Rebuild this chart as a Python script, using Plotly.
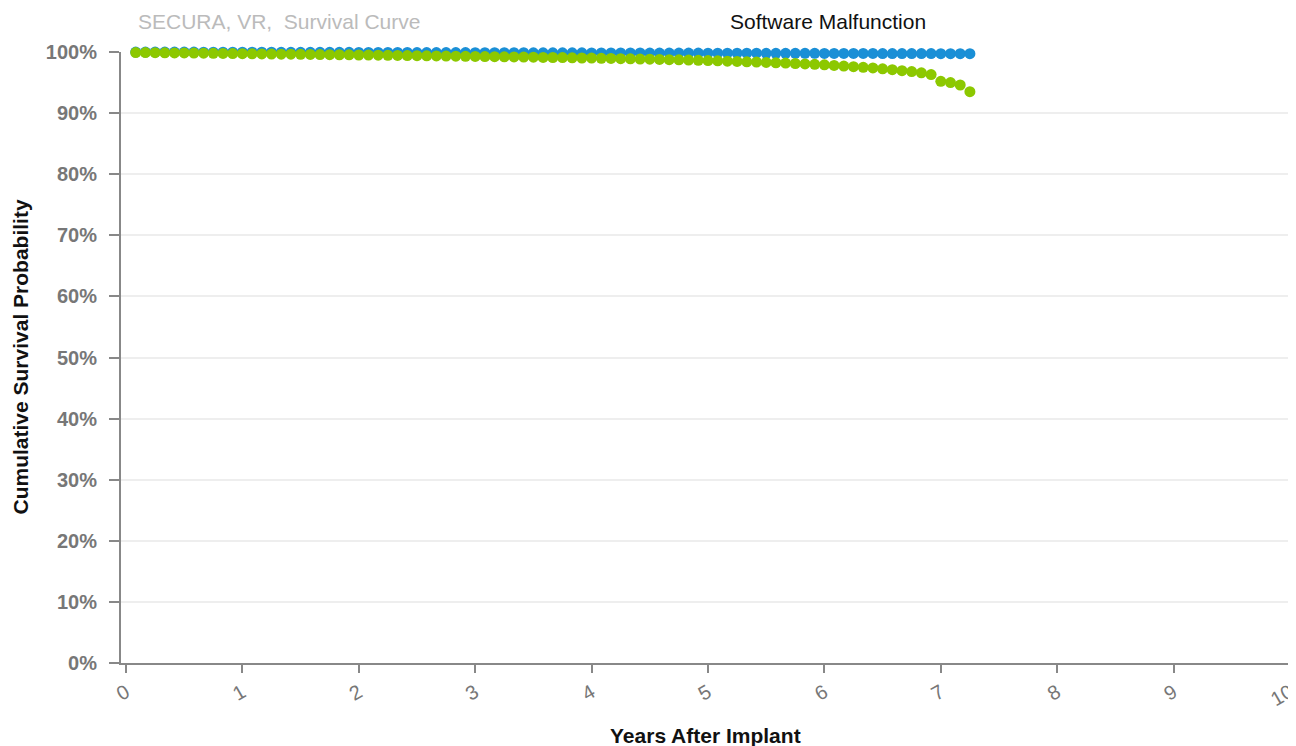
import plotly.graph_objects as go

# months after implant (monthly survival estimates)
months = list(range(1, 88))

blue_pct = [
    99.99, 99.99, 99.99, 99.98, 99.98, 99.98, 99.98, 99.97, 99.97, 99.97, 99.97, 99.96,
    99.96, 99.96, 99.96, 99.95, 99.95, 99.95, 99.95, 99.94, 99.94, 99.94, 99.94, 99.93,
    99.93, 99.93, 99.92, 99.92, 99.92, 99.91, 99.91, 99.91, 99.90, 99.90, 99.90, 99.89,
    99.89, 99.89, 99.88, 99.88, 99.88, 99.87, 99.87, 99.87, 99.86, 99.86, 99.86, 99.85,
    99.85, 99.85, 99.84, 99.84, 99.84, 99.83, 99.83, 99.83, 99.82, 99.82, 99.82, 99.81,
    99.81, 99.81, 99.80, 99.80, 99.80, 99.79, 99.79, 99.79, 99.78, 99.78, 99.78, 99.77,
    99.77, 99.77, 99.76, 99.76, 99.76, 99.75, 99.75, 99.75, 99.74, 99.74, 99.74, 99.73,
    99.73, 99.73, 99.72,
]

green_pct = [
    99.90, 99.90, 99.88, 99.87, 99.85, 99.84, 99.82, 99.80, 99.78, 99.76, 99.74, 99.72,
    99.70, 99.69, 99.67, 99.65, 99.64, 99.62, 99.60, 99.58, 99.57, 99.55, 99.53, 99.51,
    99.50, 99.48, 99.46, 99.44, 99.42, 99.40, 99.38, 99.36, 99.34, 99.32, 99.30, 99.28,
    99.26, 99.24, 99.22, 99.20, 99.17, 99.15, 99.12, 99.10, 99.08, 99.05, 99.02, 99.00,
    98.97, 98.94, 98.91, 98.88, 98.85, 98.82, 98.79, 98.75, 98.72, 98.68, 98.64, 98.60,
    98.55, 98.50, 98.45, 98.40, 98.35, 98.30, 98.24, 98.18, 98.12, 98.05, 97.98, 97.90,
    97.80, 97.70, 97.60, 97.50, 97.40, 97.25, 97.10, 96.95, 96.80, 96.60, 96.30, 95.20,
    95.00, 94.60, 93.50,
]

years = [m / 12 for m in months]
y_ticks = [0, 10, 20, 30, 40, 50, 60, 70, 80, 90, 100]
x_ticks = [0, 1, 2, 3, 4, 5, 6, 7, 8, 9, 10]

FONT = "Liberation Sans, Arial, sans-serif"

fig = go.Figure()

fig.add_trace(go.Scatter(
    x=years, y=blue_pct, mode="markers", name="Blue",
    marker=dict(color="#1a8fd6", size=11),
    cliponaxis=False
))
fig.add_trace(go.Scatter(
    x=years, y=green_pct, mode="markers", name="Green",
    marker=dict(color="#8cc800", size=11),
    cliponaxis=False
))

# subtitle sitting at the very top of the page
fig.add_annotation(
    text="Software Malfunction", xref="paper", yref="paper",
    x=(920 - 113) / 1169, y=1 + 44 / 611, yanchor="top", showarrow=False,
    font=dict(family=FONT, size=21, color="#111")
)
# axis titles
fig.add_annotation(
    text="<b>Years After Implant</b>", xref="paper", yref="paper",
    x=0.5, y=0, yshift=-72, yanchor="middle", showarrow=False,
    font=dict(family=FONT, size=21, color="#111")
)
fig.add_annotation(
    text="<b>Cumulative Survival Probability</b>", xref="paper", yref="paper",
    x=0, xshift=-101, y=0.5, xanchor="center", yanchor="middle",
    textangle=-90, showarrow=False,
    font=dict(family=FONT, size=21, color="#111")
)

fig.update_layout(
    width=1296,
    height=746,
    margin=dict(l=113, r=14, t=44, b=91, autoexpand=False),
    plot_bgcolor="white",
    paper_bgcolor="white",
    showlegend=False,
    title=dict(
        text="SECURA, VR,  Survival Curve",
        x=130 / 1296, xanchor="left", y=1 - 14 / 746, yanchor="middle",
        font=dict(family=FONT, size=21, color="#bbbbbb")
    ),
    xaxis=dict(
        range=[-0.043, 10.0],
        tickvals=x_ticks,
        ticktext=[str(v) for v in x_ticks],
        tickangle=-30,
        ticks="outside", ticklen=8, tickwidth=2, tickcolor="#888",
        showline=True, linecolor="#888", linewidth=2,
        showgrid=False, zeroline=False,
        tickfont=dict(family=FONT, size=20, color="#777"),
    ),
    yaxis=dict(
        range=[0, 100],
        tickvals=y_ticks,
        ticktext=[f"<b>{v}%</b>" for v in y_ticks],
        ticks="outside", ticklen=10, tickwidth=2, tickcolor="#888",
        ticklabelstandoff=8,
        showline=True, linecolor="#888", linewidth=2,
        showgrid=True, gridcolor="#eeeeee", gridwidth=2,
        zeroline=False,
        tickfont=dict(family=FONT, size=20, color="#777"),
    ),
)

fig.write_html("out.html")
